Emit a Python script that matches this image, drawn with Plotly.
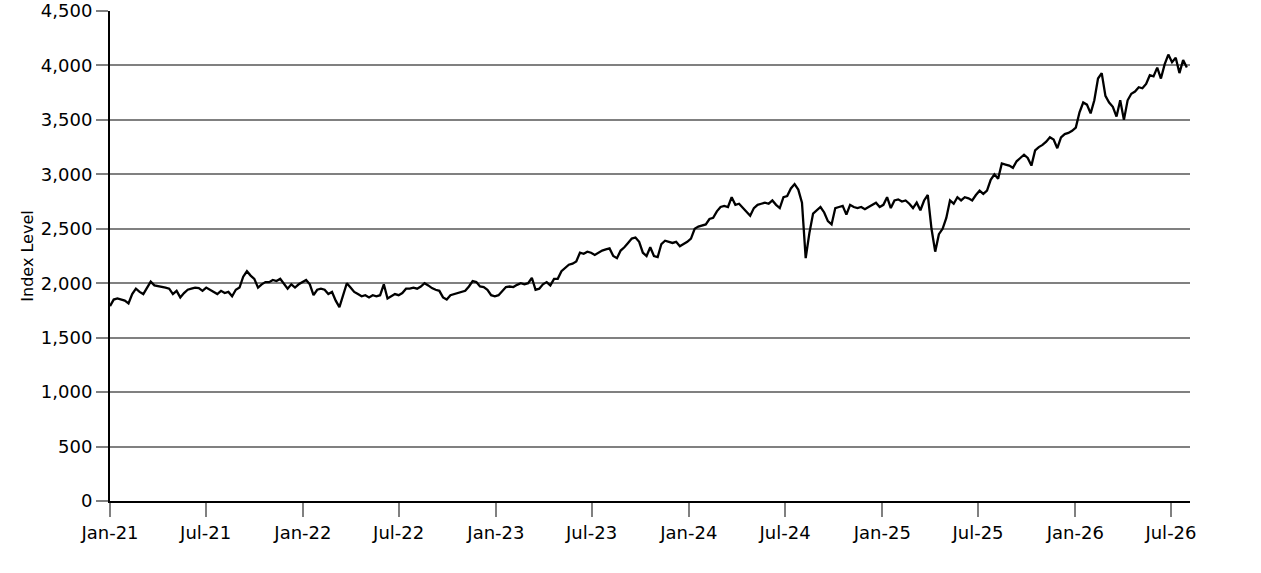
import pandas as pd
import plotly.graph_objects as go

# niveaux hebdomadaires de l'indice
niveaux_2021 = [1790, 1850, 1860, 1850, 1840, 1815, 1900, 1950, 1920, 1900, 1960, 2015, 1980, 1975,
                1970, 1960, 1950, 1900, 1930, 1870, 1910, 1940, 1950, 1960, 1955, 1930, 1960, 1940,
                1920, 1900, 1930, 1910, 1920, 1880, 1940, 1960, 2060, 2110, 2070, 2040, 1960, 1990,
                2010, 2010, 2030, 2020, 2040, 2000, 1950, 1990, 1960, 1990, 2010]
niveaux_2022 = [2030, 1990, 1890, 1940, 1950, 1940, 1900, 1920, 1840, 1780, 1880, 2000, 1960, 1920,
                1900, 1880, 1890, 1870, 1890, 1880, 1890, 1990, 1860, 1880, 1900, 1890, 1910, 1950,
                1950, 1960, 1950, 1970, 2000, 1980, 1955, 1940, 1930, 1870, 1850, 1890, 1900, 1910,
                1920, 1930, 1970, 2020, 2010, 1970, 1965, 1940, 1890, 1880]
niveaux_2023 = [1890, 1930, 1965, 1970, 1965, 1985, 2000, 1990, 2000, 2050, 1940, 1950, 1990, 2010,
                1980, 2040, 2040, 2110, 2140, 2170, 2180, 2200, 2280, 2270, 2290, 2280, 2260, 2280,
                2300, 2310, 2320, 2250, 2230, 2300, 2330, 2370, 2410, 2420, 2380, 2280, 2250, 2330,
                2250, 2240, 2360, 2390, 2380, 2370, 2380, 2340, 2360, 2380]
niveaux_2024 = [2410, 2500, 2520, 2530, 2540, 2590, 2600, 2660, 2700, 2710, 2700, 2790, 2720, 2730,
                2690, 2660, 2620, 2690, 2720, 2730, 2740, 2730, 2760, 2720, 2690, 2790, 2800, 2870,
                2910, 2860, 2740, 2230, 2460, 2640, 2670, 2700, 2650, 2570, 2540, 2690, 2700, 2710,
                2630, 2720, 2700, 2690, 2700, 2680, 2700, 2720, 2740, 2700]
niveaux_2025 = [2720, 2790, 2690, 2760, 2770, 2750, 2760, 2730, 2690, 2740, 2670, 2760, 2810, 2500,
                2290, 2450, 2500, 2600, 2760, 2730, 2790, 2760, 2790, 2780, 2760, 2810, 2850, 2820,
                2850, 2950, 3000, 2960, 3100, 3090, 3080, 3060, 3120, 3150, 3180, 3150, 3080, 3220,
                3250, 3270, 3300, 3340, 3320, 3240, 3340, 3370, 3380, 3400]
niveaux_2026 = [3430, 3570, 3660, 3640, 3560, 3680, 3880, 3930, 3720, 3660, 3620, 3530, 3680, 3500,
                3680, 3740, 3760, 3800, 3790, 3830, 3910, 3900, 3980, 3880, 4010, 4100, 4030, 4070,
                3930, 4050, 3980]

niveaux = niveaux_2021 + niveaux_2022 + niveaux_2023 + niveaux_2024 + niveaux_2025 + niveaux_2026
dates = pd.date_range('2021-01-01', periods=len(niveaux), freq='7D')

graduations_x = pd.date_range('2021-01-01', '2026-07-01', freq='6MS')
etiquettes_x = [d.strftime('%b-%y') for d in graduations_x]
graduations_y = [0, 500, 1000, 1500, 2000, 2500, 3000, 3500, 4000, 4500]

figure = go.Figure(go.Scatter(x=dates, y=niveaux, mode='lines',
                              line=dict(color='black', width=2.3), showlegend=False))

figure.update_layout(
    width=1261, height=573,
    margin=dict(l=110, r=71, t=11, b=72),
    plot_bgcolor='white', paper_bgcolor='white',
    font=dict(family='DejaVu Sans', size=18, color='black'),
)
figure.update_xaxes(
    range=['2021-01-01', '2026-08-06'],
    tickvals=graduations_x, ticktext=etiquettes_x,
    showgrid=False, zeroline=False, automargin=False,
    showline=True, linecolor='black', linewidth=2,
    ticks='outside', ticklen=14, tickwidth=2, tickcolor='#808080',
)
figure.update_yaxes(
    range=[0, 4500], tickvals=graduations_y, tickformat=',',
    title=dict(text='Index Level', standoff=3, font=dict(size=16)), automargin=False,
    showgrid=True, gridcolor='#808080', gridwidth=2, zeroline=False,
    showline=True, linecolor='black', linewidth=2,
    ticks='outside', ticklen=12, tickwidth=2, tickcolor='#808080',
)

# pas de marge autour du graphique dans la page, pas de barre d'outils
figure.write_html('out.html', config={'displayModeBar': False},
                  post_script="document.body.style.margin = '0';")
